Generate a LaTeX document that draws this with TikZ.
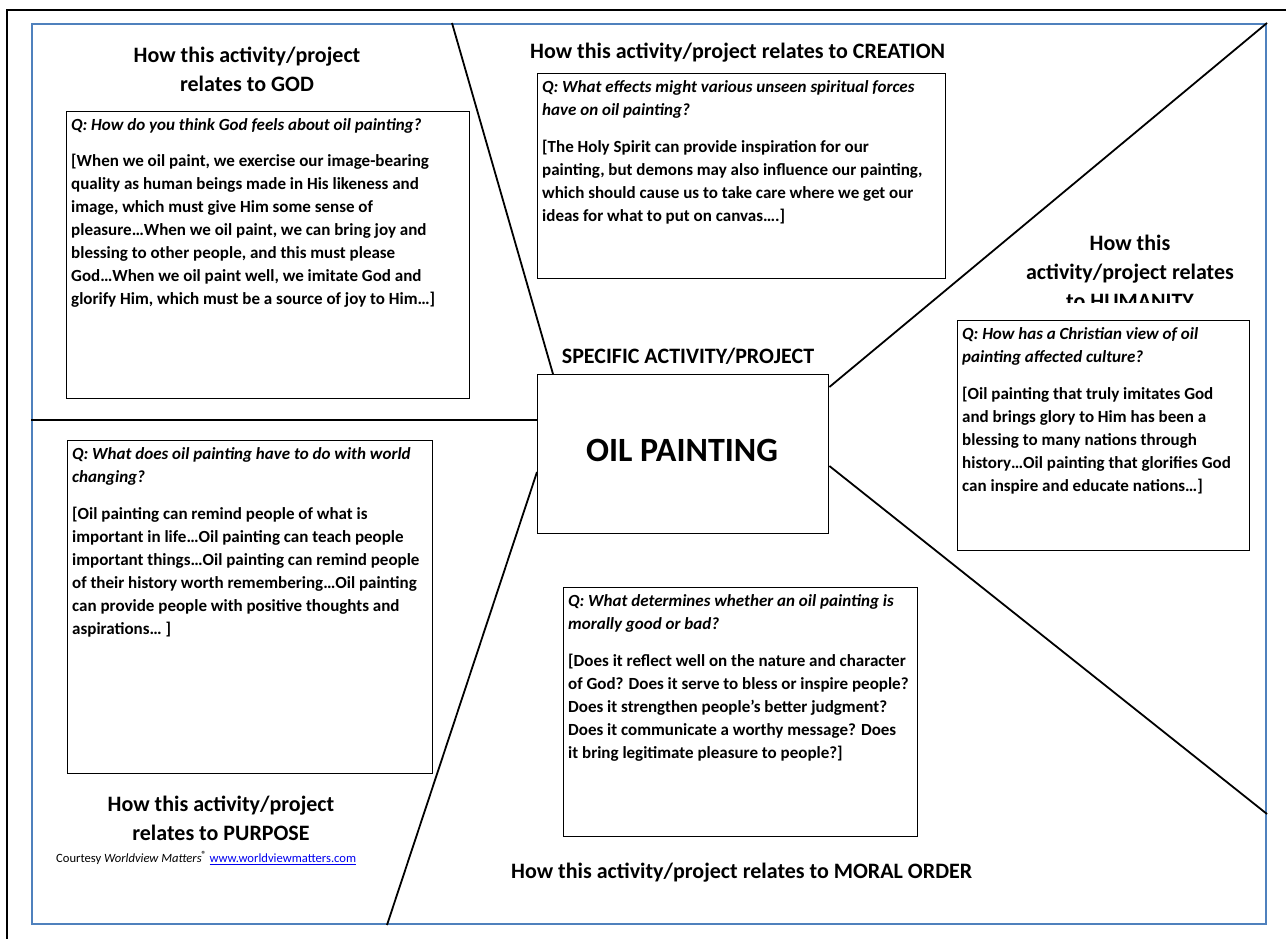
\documentclass[tikz,border=0pt]{standalone}
\usepackage{fontspec}
\setmainfont{Carlito}
\definecolor{frameblue}{RGB}{79,129,189}
\definecolor{linkblue}{RGB}{0,0,238}
\begin{document}
\begin{tikzpicture}[x=1pt, y=-1pt,
qbox/.style={draw, line width=1.4pt, anchor=north west, inner sep=0pt},
qtext/.style={anchor=north west, align=left, inner sep=0pt, font=\fontsize{17}{23}\selectfont\bfseries},
head/.style={align=center, inner sep=0pt, font=\fontsize{22}{29}\selectfont\bfseries},
divider/.style={line width=1.8pt}]
\useasboundingbox (0,0) rectangle (1286,939);
\draw[line width=2.5pt] (7,939) -- (7,10) -- (1286,10);
\node[draw=frameblue, line width=2pt, inner sep=0pt, minimum width=1234pt, minimum height=900pt, anchor=north west] (fr) at (31,23) {};

\node[qbox, minimum width=291pt, minimum height=159pt] (c0) at (537,374) {};
\node[font=\fontsize{34}{40}\selectfont\bfseries] (c1) at (682,450) {OIL PAINTING};
\node[head] (h5) at (688,356) {SPECIFIC ACTIVITY/PROJECT};

\draw[divider] ([xshift=421pt]fr.north west) -- ([xshift=16pt]c0.north west);
\draw[divider] ([yshift=-397pt]fr.north west) -- ([yshift=-46pt]c0.north west);
\draw[divider] ([yshift=-98pt]c0.north west) -- ([xshift=356pt]fr.south west);
\draw[divider] ([yshift=-13pt]c0.north east) -- (fr.north east);
\draw[divider] ([yshift=-92pt]c0.north east) -- ([yshift=111pt]fr.south east);

\node[head] (h0) at (247,69) {How this activity/project\\relates to GOD};
\node[qbox, minimum width=403pt, minimum height=287pt] (q0) at (66,111) {};
\node[qtext] (t0) at ([xshift=5pt,yshift=-7pt]q0.north west) {{\itshape Q: How do you think God feels about oil painting?}\\[13pt]
{[}When we oil paint, we exercise our image-bearing\\
quality as human beings made in His likeness and\\
image, which must give Him some sense of\\
pleasure…When we oil paint, we can bring joy and\\
blessing to other people, and this must please\\
God…When we oil paint well, we imitate God and\\
glorify Him, which must be a source of joy to Him…]};

\node[head, anchor=west] (h1) at (530,53) {How this activity/project relates to CREATION};
\node[qbox, minimum width=408pt, minimum height=205pt] (q1) at (537,73) {};
\node[qtext] (t1) at ([xshift=5pt,yshift=-7pt]q1.north west) {{\itshape Q: What effects might various unseen spiritual forces}\\
{\itshape have on oil painting?}\\[14pt]
{[}The Holy Spirit can provide inspiration for our\\
painting, but demons may also influence our painting,\\
which should cause us to take care where we get our\\
ideas for what to put on canvas….]};

\begin{scope}
\clip (1000,225) rectangle (1265,302);
\node[head] (h2) at (1130,272) {How this\\activity/project relates\\to HUMANITY};
\end{scope}
\node[qbox, minimum width=292pt, minimum height=230pt] (q2) at (957,320) {};
\node[qtext] (t2) at ([xshift=5pt,yshift=-7pt]q2.north west) {{\itshape Q: How has a Christian view of oil}\\
{\itshape painting affected culture?}\\[14pt]
{[}Oil painting that truly imitates God\\
and brings glory to Him has been a\\
blessing to many nations through\\
history…Oil painting that glorifies God\\
can inspire and educate nations…]};

\node[qbox, minimum width=365pt, minimum height=333pt] (q3) at (67,440) {};
\node[qtext] (t3) at ([xshift=5pt,yshift=-7pt]q3.north west) {{\itshape Q: What does oil painting have to do with world}\\
{\itshape changing?}\\[14pt]
{[}Oil painting can remind people of what is\\
important in life…Oil painting can teach people\\
important things…Oil painting can remind people\\
of their history worth remembering…Oil painting\\
can provide people with positive thoughts and\\
aspirations… ]};
\node[head] (h3) at (221,818) {How this activity/project\\relates to PURPOSE};

\node[qbox, minimum width=354pt, minimum height=249pt] (q4) at (563,587) {};
\node[qtext] (t4) at ([xshift=5pt,yshift=-7pt]q4.north west) {{\itshape Q: What determines whether an oil painting is}\\
{\itshape morally good or bad?}\\[14pt]
{[}Does it reflect well on the nature and character\\
of God? Does it serve to bless or inspire people?\\
Does it strengthen people’s better judgment?\\
Does it communicate a worthy message? Does\\
it bring legitimate pleasure to people?]};
\node[head, anchor=west] (h4) at (511,873) {How this activity/project relates to MORAL ORDER};

\node[anchor=west, inner sep=0pt, font=\fontsize{12.6}{15}\selectfont] (cr) at (56,858) {Courtesy \textit{Worldview Matters}\textsuperscript{\bfseries ®} \textcolor{linkblue}{\underline{www.worldviewmatters.com}}};
\end{tikzpicture}
\end{document}
